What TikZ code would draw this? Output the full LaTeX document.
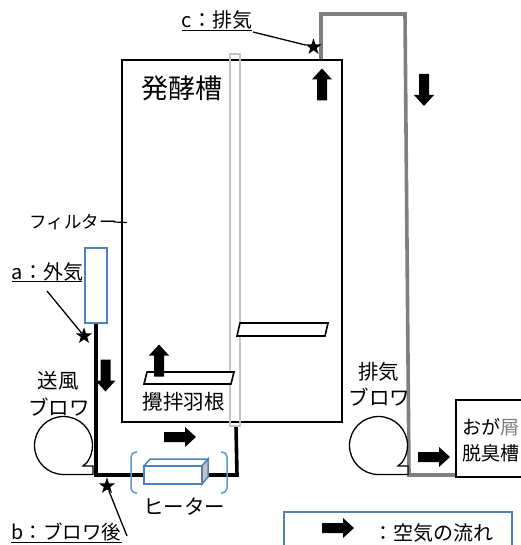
\documentclass[tikz,border=0pt]{standalone}
\usepackage{fontspec}
\setmainfont{Noto Sans CJK JP}
\usetikzlibrary{shapes.geometric}
\definecolor{edgeblue}{HTML}{4F81BD}
\definecolor{brace}{HTML}{5B9BD5}
\definecolor{pipegrey}{HTML}{7F7F7F}
\definecolor{shaftgrey}{HTML}{C4C4C4}
\tikzset{
  txt/.style={inner sep=0pt,font=\fontsize{20.5}{24}\selectfont},
  txtsm/.style={inner sep=0pt,font=\fontsize{20}{24}\selectfont},
  outline/.style={draw=black,line width=1.6pt},
  blackpipe/.style={draw=black,line width=3.6pt,line join=miter},
  greypipe/.style={draw=pipegrey,line width=3.6pt,line join=miter},
  bluebox/.style={draw=edgeblue,line width=1.5pt},
  bracket/.style={draw=brace,line width=1.5pt,rounded corners=5pt},
  leader/.style={draw=black,line width=1.3pt},
  staricon/.style={star,star points=5,star point ratio=2.5,fill=black,inner sep=0pt,minimum size=17pt},
  flowarrow/.pic={\fill[black] (-16,-5)--(5,-5)--(5,-10)--(16,0)--(5,10)--(5,5)--(-16,5)--cycle;},
  blower/.pic={\draw[black,line width=1.3pt,fill=white,line join=miter] (0,29) arc[start angle=90,end angle=395,radius=29] -- (19.5,20.5) -- (29.5,20.5) -- (29.5,29) -- cycle;}
}
\begin{document}
\begin{tikzpicture}[x=1pt,y=-1pt]
\useasboundingbox (0,0) rectangle (520,545);
% pipes
\coordinate (gp0) at (321,60);
\coordinate (gp1) at (321,14);
\coordinate (gp2) at (405,14);
\coordinate (gp3) at (409,475);
\coordinate (gp4) at (456,475);
\draw[greypipe] (gp0) -- (gp1) -- (gp2) -- (gp3) -- (gp4);
\coordinate (bp0) at (96,323);
\coordinate (bp1) at (96,475);
\coordinate (bp2) at (237,475);
\coordinate (bp3) at (236,426);
\draw[blackpipe] (bp0) -- (bp1) -- (bp2) -- (bp3);
% tank
\node[outline,minimum width=220pt,minimum height=362pt,inner sep=0pt] (tank) at (232,241) {};
\node[draw=shaftgrey,line width=2pt,minimum width=10pt,minimum height=372pt,inner sep=0pt] (shaft) at (235,240) {};
\node[txt,font=\fontsize{27}{31}\selectfont] (tanklabel) at (182,88) {発酵槽};
% paddles
\draw[outline,fill=white] (147,372) -- (234,372) -- (231,384) -- (144,384) -- cycle;
\draw[outline,fill=white] (240,323) -- (328,323) -- (325,336) -- (237,336) -- cycle;
\node[txt] (paddlelabel) at (183.5,402) {攪拌羽根};
% filter
\node[bluebox,fill=white,minimum width=22pt,minimum height=75pt,inner sep=0pt] (filter) at (96,285.5) {};
\node[inner sep=0pt,font=\fontsize{17.5}{21}\selectfont] (filterlabel) at (73,222) {フィルター};
\coordinate (filterend) at (127,222.5);
\draw[line width=1.2pt] (filterlabel.east) ++(-3,0) -- (filterend);
% blowers
\pic at (63.5,445.5) {blower};
\pic at (378.5,445.5) {blower};
\node[txt] (sendlabel1) at (58,381) {送風};
\node[txt] (sendlabel2) at (59,407) {ブロワ};
\node[txt] (exlabel1) at (378.5,372) {排気};
\node[txt] (exlabel2) at (379.5,397) {ブロワ};
% heater
\draw[bluebox,fill=white] (144,466) -- (150,459) -- (208,459) -- (202,466) -- cycle;
\draw[bluebox,fill=shaftgrey] (202,466) -- (208,459) -- (208,477) -- (202,484) -- cycle;
\draw[bluebox,fill=white] (144,466) rectangle (202,484);
\draw[bracket] (137,452) -- (131,452) -- (131,493) -- (137,493);
\draw[bracket] (221,452) -- (227,452) -- (227,493) -- (221,493);
\node[txt] (heaterlabel) at (184,507) {ヒーター};
% deodoriser
\node[outline,fill=white,minimum width=69pt,minimum height=77pt,inner sep=0pt] (deo) at (490.5,438.5) {};
\node[inner sep=0pt,font=\fontsize{19}{23}\selectfont,anchor=west] (deo1) at (462,427) {おが\textcolor{pipegrey}{屑}};
\node[inner sep=0pt,font=\fontsize{19}{23}\selectfont,anchor=west] (deo2) at (462,453) {脱臭槽};
% labels with leaders
\node[txtsm] (alabel) at (47.5,272) {a：外気};
\coordinate (aul1) at (12,281); \coordinate (aul2) at (82,281);
\draw[line width=1pt] (aul1) -- (aul2);
\node[staricon] (astar) at (84,336) {};
\coordinate (aleadstart) at (47,291);
\draw[leader] (aleadstart) -- (astar);
\node[txtsm,font=\fontsize{19.5}{24}\selectfont] (blabel) at (66.5,532) {b：ブロワ後};
\coordinate (bul1) at (11,542); \coordinate (bul2) at (122,542);
\draw[line width=1pt] (bul1) -- (bul2);
\node[staricon] (bstar) at (107,486) {};
\coordinate (bleadstart) at (127,536);
\draw[leader] (bleadstart) -- (bstar);
\node[txtsm] (clabel) at (217,20) {c：排気};
\coordinate (cul1) at (182,31); \coordinate (cul2) at (252,31);
\draw[line width=1pt] (cul1) -- (cul2);
\node[staricon] (cstar) at (313.5,47) {};
\coordinate (cleadstart) at (253,32);
\draw[leader] (cleadstart) -- (cstar);
% flow arrows
\pic[rotate=-90] at (105.5,375.5) {flowarrow};
\pic[rotate=90] at (159,360.5) {flowarrow};
\pic[rotate=90] at (322,84.5) {flowarrow};
\pic[rotate=-90] at (424,90) {flowarrow};
\pic at (180,437) {flowarrow};
\pic at (434,457) {flowarrow};
% legend
\coordinate (lg0) at (284,546);
\coordinate (lg1) at (284,512);
\coordinate (lg2) at (512,512);
\coordinate (lg3) at (512,546);
\draw[bluebox] (lg0) -- (lg1) -- (lg2) -- (lg3);
\pic at (338,528) {flowarrow};
\node[txt,font=\fontsize{20}{24}\selectfont,anchor=west] (legendtext) at (373,533) {：空気の流れ};
\end{tikzpicture}
\end{document}
